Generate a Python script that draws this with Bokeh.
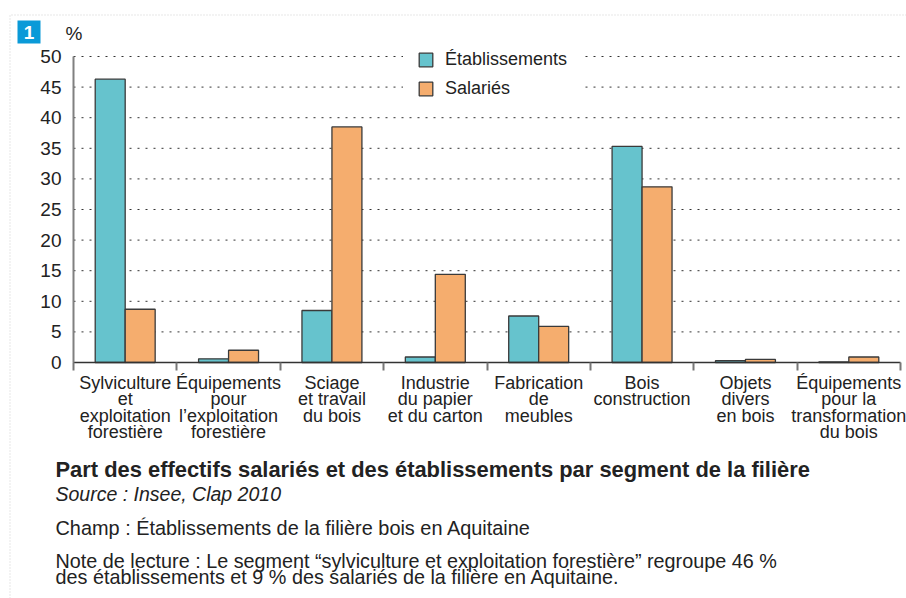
from bokeh.plotting import figure
from bokeh.models import (FixedTicker, Label, Legend, LegendItem, BoxAnnotation,
                          PolyAnnotation, Range1d, ColumnDataSource)
from bokeh.embed import file_html
from bokeh.resources import INLINE

# ---------------- data ----------------
categories = [
    "Sylviculture\net\nexploitation\nforestière",
    "Équipements\npour\nl’exploitation\nforestière",
    "Sciage\net travail\ndu bois",
    "Industrie\ndu papier\net du carton",
    "Fabrication\nde\nmeubles",
    "Bois\nconstruction",
    "Objets\ndivers\nen bois",
    "Équipements\npour la\ntransformation\ndu bois",
]
etablissements = [46.3, 0.6, 8.5, 0.9, 7.6, 35.3, 0.3, 0.1]
salaries = [8.7, 2.0, 38.5, 14.4, 5.9, 28.7, 0.5, 0.9]
y_ticks = [0, 5, 10, 15, 20, 25, 30, 35, 40, 45, 50]
series_names = ["Établissements", "Salariés"]
title_text = "Part des effectifs salariés et des établissements par segment de la filière"
source_text = "Source : Insee, Clap 2010"
champ_text = "Champ : Établissements de la filière bois en Aquitaine"
note_lines = [
    "Note de lecture : Le segment “sylviculture et exploitation forestière” regroupe 46 %",
    "des établissements et 9 % des salariés de la filière en Aquitaine.",
]

FONT = "Liberation Sans"
TEAL = "#66c3cd"
ORANGE = "#f5ad6e"
EDGE = "#3a3a3a"
TXT = "#222222"

# ---------------- layout (pixels) ----------------
W, H = 906, 598
AX_L, AX_R = 73, 900        # x pixel of category 0 / category n
AX_0, AX_50 = 362, 56       # y pixel (from top) of value 0 / value 50
BASE_FIX = 7                # correction for the rendered text baseline

n = len(categories)
ppx = (AX_R - AX_L) / n
ppy = (AX_0 - AX_50) / 50.0
x_range = Range1d(-AX_L / ppx, n + (W - AX_R) / ppx)
y_range = Range1d(-(H - AX_0) / ppy, 50 + AX_50 / ppy)

bar_w = 0.29
centers = [i + 0.5 for i in range(n)]
src = ColumnDataSource(dict(
    x_e=[c - bar_w / 2 for c in centers],
    x_s=[c + bar_w / 2 for c in centers],
    etab=etablissements,
    sal=salaries,
))

p = figure(width=W, height=H, x_range=x_range, y_range=y_range,
           output_backend="svg", toolbar_location=None, title_location=None,
           min_border=0)
p.outline_line_color = None
p.background_fill_color = "white"
p.border_fill_color = "white"
p.xgrid.visible = False
p.ygrid.visible = False

# dotted horizontal grid, limited to the plotting area
p.segment(x0=[0] * len(y_ticks), x1=[n] * len(y_ticks), y0=y_ticks, y1=y_ticks,
          line_color="#333333", line_dash="2 6", line_width=1)

r_e = p.vbar(x="x_e", top="etab", width=bar_w, source=src, fill_color=TEAL,
             line_color=EDGE, line_width=1.3)
r_s = p.vbar(x="x_s", top="sal", width=bar_w, source=src, fill_color=ORANGE,
             line_color=EDGE, line_width=1.3)

# x axis
xa = p.xaxis[0]
xa.fixed_location = 0
xa.bounds = (0, n)
xa.ticker = FixedTicker(ticks=centers, minor_ticks=list(range(n + 1)))
xa.major_label_overrides = {c: lab for c, lab in zip(centers, categories)}
xa.major_tick_out = 0
xa.major_tick_in = 0
xa.minor_tick_out = 8
xa.minor_tick_in = 0
xa.minor_tick_line_color = "#777777"
xa.minor_tick_line_width = 2
xa.axis_line_color = "#333333"
xa.axis_line_width = 1.5
xa.major_label_text_font = FONT
xa.major_label_text_font_size = "18px"
xa.major_label_text_color = TXT
xa.major_label_text_line_height = 0.83
xa.major_label_standoff = 2

# y axis
ya = p.yaxis[0]
ya.fixed_location = 0
ya.bounds = (0, 50)
ya.ticker = FixedTicker(ticks=y_ticks)
ya.major_tick_out = 0
ya.major_tick_in = 0
ya.minor_tick_out = 0
ya.minor_tick_in = 0
ya.axis_line_color = "#808080"
ya.axis_line_width = 2
ya.major_label_text_font = FONT
ya.major_label_text_font_size = "19px"
ya.major_label_text_color = TXT
ya.major_label_standoff = 12


# screen units are measured from the frame's bottom-left (frame = whole canvas)
def sx(ref_x):
    return ref_x


def sy(ref_y):
    return H - ref_y


# legend
legend = Legend(items=[LegendItem(label=series_names[0], renderers=[r_e]),
                       LegendItem(label=series_names[1], renderers=[r_s])],
                location=(sx(403), sy(113)), orientation="vertical",
                glyph_width=17, glyph_height=17, label_height=17,
                label_standoff=11, spacing=8, padding=14, margin=0,
                border_line_alpha=0, background_fill_color="white",
                background_fill_alpha=1,
                label_text_font=FONT, label_text_font_size="18px",
                label_text_color=TXT)
p.add_layout(legend, "center")

# dotted outer border (left and top)
border = PolyAnnotation(xs=[sx(9.5), sx(9.5), 3000, 3000],
                        ys=[-3000, sy(14.5), sy(14.5), -3000],
                        xs_units="screen", ys_units="screen",
                        fill_alpha=0, line_color="#666666", line_width=1,
                        line_dash="1 2", level="underlay")
p.add_layout(border)

# badge
badge = BoxAnnotation(left=sx(17), right=sx(40), top=sy(20), bottom=sy(43),
                      left_units="screen", right_units="screen",
                      top_units="screen", bottom_units="screen",
                      fill_color="#0a9ad8", fill_alpha=1, line_alpha=0)
p.add_layout(badge)
p.add_layout(Label(x=sx(28.5), y=sy(31.5), x_units="screen", y_units="screen",
                   text="1", text_align="center", text_baseline="middle",
                   text_font=FONT, text_font_style="bold",
                   text_font_size="19px", text_color="white"))
p.add_layout(Label(x=sx(73.5), y=sy(40 - BASE_FIX), x_units="screen", y_units="screen",
                   text="%", text_align="center", text_baseline="alphabetic",
                   text_font=FONT, text_font_size="19px", text_color=TXT))


# bottom texts
def add_text(txt, ref_x, ref_y, size, style="normal"):
    p.add_layout(Label(x=sx(ref_x), y=sy(ref_y - BASE_FIX), x_units="screen",
                       y_units="screen", text=txt, text_align="left",
                       text_baseline="alphabetic", text_font=FONT,
                       text_font_size=size, text_font_style=style,
                       text_color=TXT))


add_text(title_text, 55, 475.5, "21.9px", "bold")
add_text(source_text, 55, 500.5, "19.5px", "italic")
add_text(champ_text, 55, 534, "19.9px")
add_text(note_lines[0], 55, 567.5, "19.8px")
add_text(note_lines[1], 55, 583.5, "19.8px")

open("out.html", "w").write(file_html(p, INLINE))
